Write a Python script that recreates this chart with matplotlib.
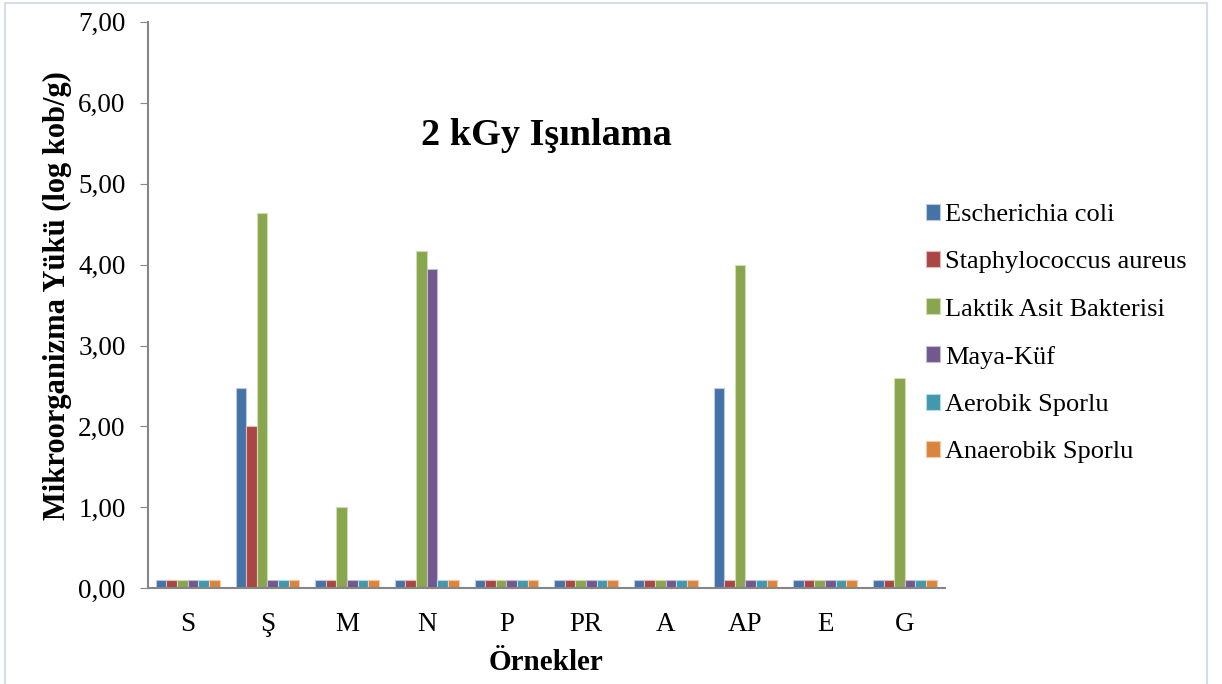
import numpy as np
import matplotlib
matplotlib.use("Agg")
import matplotlib.pyplot as plt
from matplotlib.patches import Rectangle

plt.rcParams['font.family'] = ['Liberation Serif', 'DejaVu Serif']

samples = ["S", "Ş", "M", "N", "P", "PR", "A", "AP", "E", "G"]
series_names = ["Escherichia coli", "Staphylococcus aureus", "Laktik Asit Bakterisi",
                "Maya-Küf", "Aerobik Sporlu", "Anaerobik Sporlu"]
e_coli = [0.1, 2.47, 0.1, 0.1, 0.1, 0.1, 0.1, 2.47, 0.1, 0.1]
s_aureus = [0.1, 2.00, 0.1, 0.1, 0.1, 0.1, 0.1, 0.1, 0.1, 0.1]
laktik = [0.1, 4.64, 1.00, 4.17, 0.1, 0.1, 0.1, 4.00, 0.1, 2.60]
maya_kuf = [0.1, 0.1, 0.1, 3.95, 0.1, 0.1, 0.1, 0.1, 0.1, 0.1]
aerobik = [0.1, 0.1, 0.1, 0.1, 0.1, 0.1, 0.1, 0.1, 0.1, 0.1]
anaerobik = [0.1, 0.1, 0.1, 0.1, 0.1, 0.1, 0.1, 0.1, 0.1, 0.1]
colors = ["#4572A7", "#AA4643", "#89A54E", "#71588F", "#4198AF", "#DB843D"]
edge_colors = ["#B9CBE4", "#E3B9B8", "#CCDDB5", "#C6BAD6", "#B4DAE5", "#F5C9A6"]

all_series = [e_coli, s_aureus, laktik, maya_kuf, aerobik, anaerobik]

fig = plt.figure(figsize=(12.22, 6.84), dpi=100)
ax = fig.add_axes([0.121, 0.140, 0.652, 0.828])

x = np.arange(len(samples))
n = len(all_series)
w = 0.8 / n
for i, vals in enumerate(all_series):
    ax.bar(x - 0.4 + w * (i + 0.5), vals, width=w, color=colors[i],
           edgecolor=edge_colors[i], linewidth=0.8, label=series_names[i])

ax.set_xlim(-0.5, len(samples) - 0.5)
ax.set_ylim(0, 7)
ax.set_yticks(np.arange(0, 8, 1))
ax.set_yticklabels([f"{v:.2f}".replace(".", ",") for v in np.arange(0, 8, 1)], fontsize=19.5)
ax.set_xticks(x)
ax.set_xticklabels(samples, fontsize=19.5)
ax.tick_params(axis='x', length=0, pad=17)
ax.tick_params(axis='y', length=6, color="#868686", pad=10)
for s in ["top", "right"]:
    ax.spines[s].set_visible(False)
for s in ["left", "bottom"]:
    ax.spines[s].set_color("#868686")
    ax.spines[s].set_linewidth(1.5)

ax.set_ylabel("Mikroorganizma Yükü (log kob/g)", fontsize=22, fontweight='bold')
ax.yaxis.label.set_va('center')
ax.yaxis.set_label_coords(-0.114, 0.516)
ax.set_xlabel("Örnekler", fontsize=21, fontweight='bold')
ax.xaxis.label.set_va('center')
ax.xaxis.set_label_coords(0.5, -0.131)
ax.text(0.5, 0.80, "2 kGy Işınlama", transform=ax.transAxes, ha='center', va='center',
        fontsize=27.5, fontweight='bold')

leg = fig.legend(loc='upper left', bbox_to_anchor=(0.738, 0.737), frameon=False,
                 fontsize=19, handlelength=0.55, handleheight=0.55, handletextpad=0.2,
                 labelspacing=0.95)

fig.patches.append(Rectangle((0.004, -0.01), 0.984, 1.005, transform=fig.transFigure,
                             fill=False, edgecolor="#D5DEE8", linewidth=1.5))

fig.savefig("out.png", dpi=100)
